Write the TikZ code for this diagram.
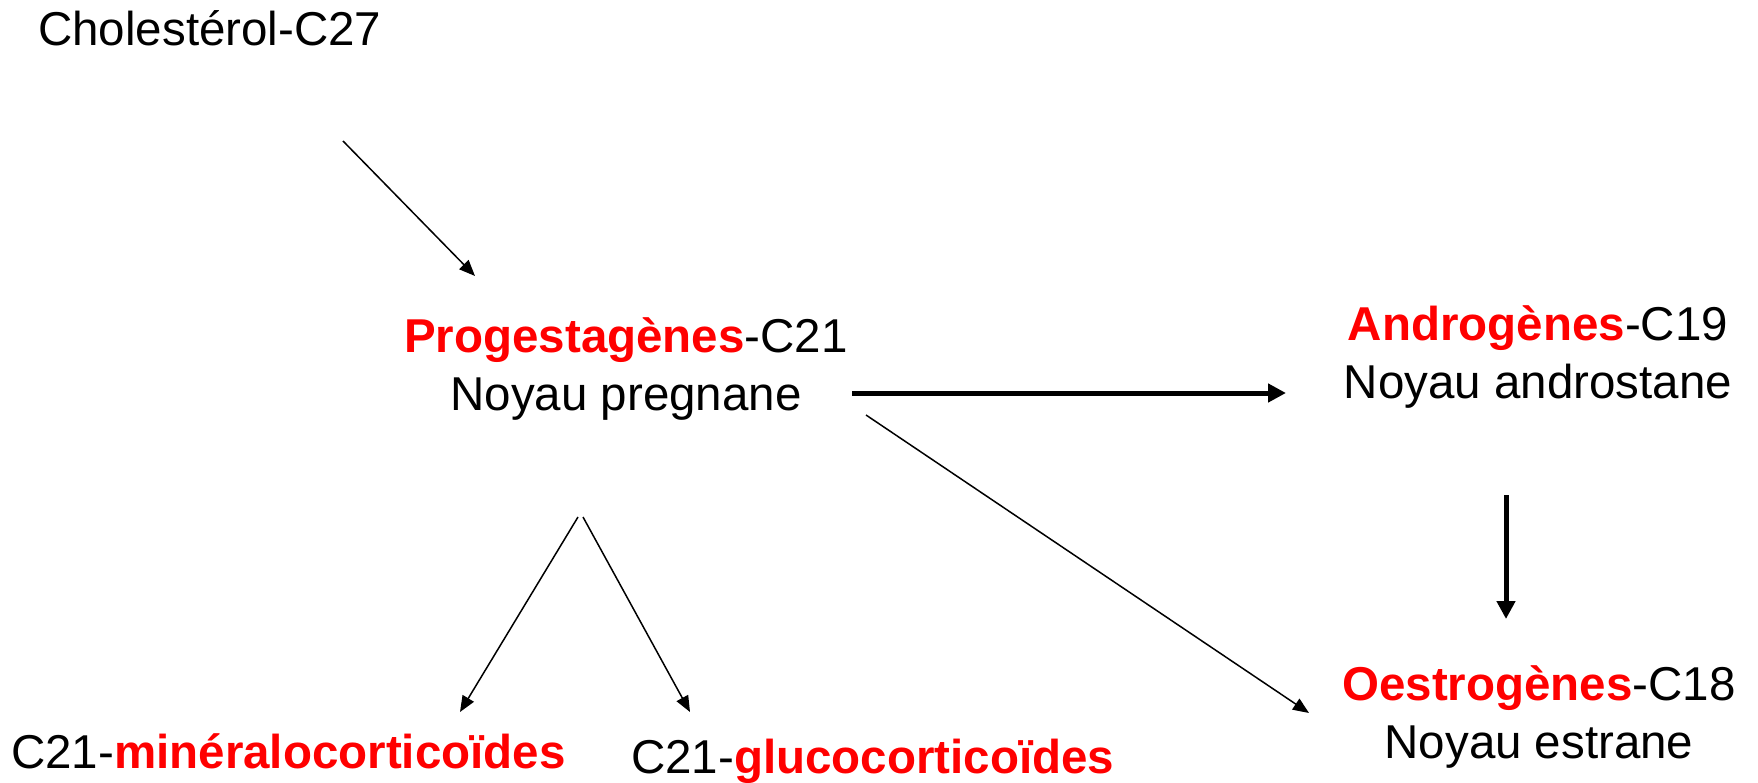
\documentclass[tikz,border=0pt]{standalone}
\usepackage{fontspec}
\setmainfont{Liberation Sans}
\usetikzlibrary{arrows.meta,calc}
\definecolor{hred}{RGB}{255,0,0}
\tikzset{
  lbl/.style={inner sep=0pt, font=\fontsize{47.5}{57.5}\selectfont},
  twoline/.style={lbl, align=center, anchor=base},
  thin/.style={line width=1.5pt, -{Triangle[length=16pt,width=13pt]}},
  thick/.style={line width=5pt, -{Triangle[length=18pt,width=18pt]}}
}
\newcommand{\hot}[1]{\textbf{\textcolor{hred}{#1}}}
\begin{document}
\begin{tikzpicture}[x=1pt,y=-1pt]
\useasboundingbox (0,0) rectangle (1758,783);

% labels (two-line nodes are anchored on the baseline of their last line)
\node[lbl, anchor=base west] (chol) at (38,46) {Cholestérol-C27};
\node[twoline] (prog) at (626,410) {\hot{Progestagènes}-C21\\Noyau pregnane};
\node[twoline] (andro) at (1538,398) {\hot{Androgènes}-C19\\Noyau androstane};
\node[twoline] (oestro) at (1539,758) {\hot{Oestrogènes}-C18\\Noyau estrane};
\node[lbl, anchor=base west] (mineral) at (11,768) {C21-\hot{minéralocorticoïdes}};
\node[lbl, anchor=base west] (gluco) at (631,773) {C21-\hot{glucocorticoïdes}};

% conversion arrows
\draw[thin] ($(chol.base west)+(305,95)$) -- ($(prog.base)+(-151,-134)$);
\draw[thick] ($(prog.base)+(226,-17)$) -- ($(andro.base)+(-252,-5)$);
\draw[thin] ($(prog.base)+(240,5)$) -- ($(oestro.base)+(-230,-45)$);
\draw[thick] ($(andro.base)+(-32,97)$) -- ($(oestro.base)+(-33,-139)$);
\draw[thin] ($(prog.base)+(-48,107)$) -- ($(mineral.base west)+(449,-56)$);
\draw[thin] ($(prog.base)+(-43,107)$) -- ($(gluco.base west)+(59,-61)$);
\end{tikzpicture}
\end{document}
